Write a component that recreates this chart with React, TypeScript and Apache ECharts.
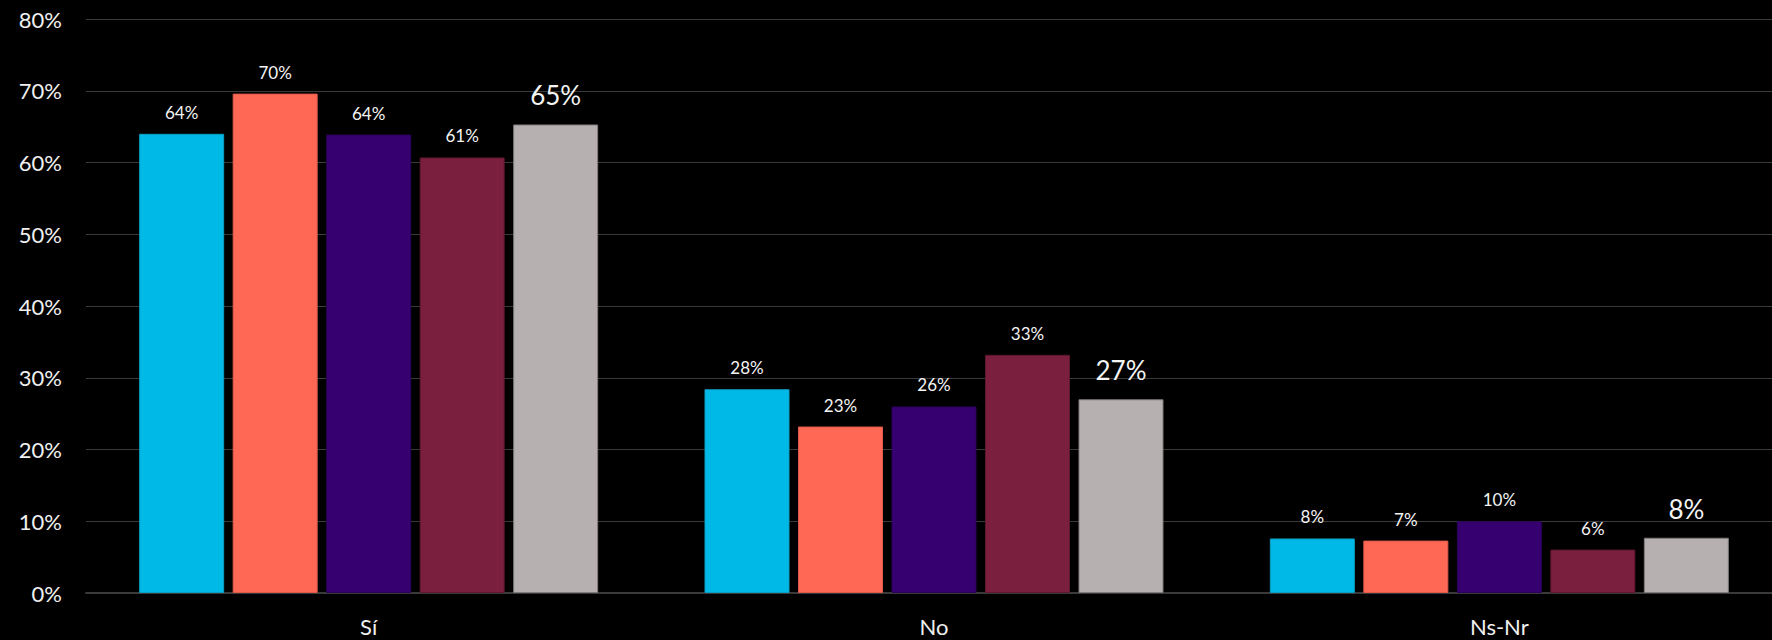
import React, { useEffect, useRef } from "react";
import * as echarts from "echarts";

const categories = ["Sí", "No", "Ns-Nr"];
const seriesA = [64.0, 28.4, 7.6];
const seriesB = [69.6, 23.2, 7.3];
const seriesC = [63.9, 26.0, 10.0];
const seriesD = [60.7, 33.2, 6.05];
const seriesE = [65.3, 27.0, 7.7];
const seriesValues = [seriesA, seriesB, seriesC, seriesD, seriesE];
const colors = ["#00B9E7", "#FF6855", "#370071", "#7A1F3E", "#B6B0B0"];
const borders = ["#0a9fc4", "#e05a49", "#2a0058", "#5e1730", "#807a7a"];
const yTicks = [0, 10, 20, 30, 40, 50, 60, 70, 80];

export default function App() {
  const ref = useRef<HTMLDivElement>(null);
  useEffect(() => {
    if (!ref.current) return;
    const chart = echarts.init(ref.current, null, { renderer: "svg" });
    const font = "Lato, 'Noto Sans', sans-serif";
    chart.setOption({
      animation: false,
      backgroundColor: "#000000",
      grid: { left: 86, right: 0, top: 19, bottom: 47, containLabel: false },
      xAxis: {
        type: "category",
        data: categories,
        axisLine: { show: true, lineStyle: { color: "#3a3a3a", width: 2 } },
        axisTick: { show: false },
        axisLabel: { color: "#f0f0f0", fontSize: 22, fontFamily: font, margin: 22 },
      },
      yAxis: {
        type: "value",
        min: yTicks[0],
        max: yTicks[yTicks.length - 1],
        interval: 10,
        axisLine: { show: false },
        axisTick: { show: false },
        splitLine: { lineStyle: { color: "#3a3a3a", width: 1 } },
        axisLabel: {
          color: "#f0f0f0",
          fontSize: 22,
          fontFamily: font,
          margin: 24,
          formatter: (v: number) => `${v}%`,
        },
      },
      series: seriesValues.map((vals, i) => ({
        type: "bar",
        data: vals,
        barWidth: 85,
        barGap: "10%",
        itemStyle: { color: colors[i], borderColor: borders[i], borderWidth: 1 },
        label: {
          show: true,
          position: "top",
          distance: i === 4 ? 16 : 13,
          color: "#f4f4f4",
          fontSize: i === 4 ? 26 : 17,
          fontFamily: font,
          formatter: (p: any) => `${Math.round(p.value)}%`,
        },
      })),
    });
    return () => chart.dispose();
  }, []);
  return (
    <div
      style={{
        position: "fixed",
        left: 0,
        top: 0,
        width: 1772,
        height: 640,
        overflow: "hidden",
        background: "#000",
      }}
    >
      <div ref={ref} style={{ width: 1782, height: 640 }} />
    </div>
  );
}
